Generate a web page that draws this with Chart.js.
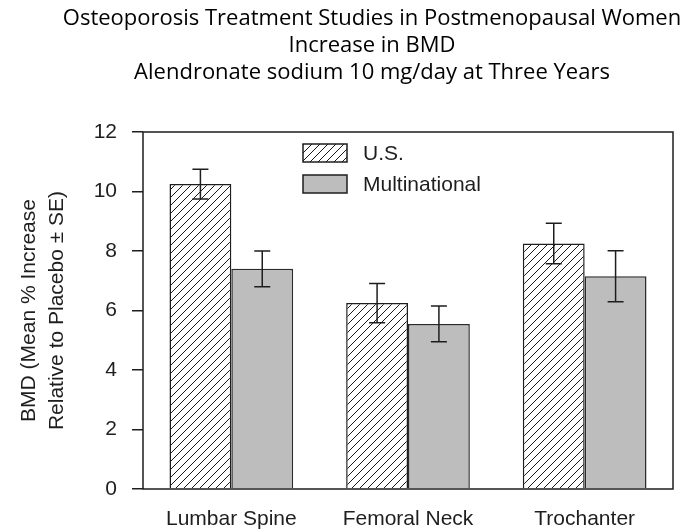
<!DOCTYPE html>
<html>
<head>
<meta charset="utf-8">
<script src="https://cdn.jsdelivr.net/npm/chart.js"></script>
<style>
  html, body { margin: 0; padding: 0; background: #fff; }
  #wrap { width: 691px; height: 531px; position: relative; }
</style>
</head>
<body>
<div id="wrap"><canvas id="bmdChart"></canvas></div>
<script>
// ==================== DATA ====================
const titleLines = [
    'Osteoporosis Treatment Studies in Postmenopausal Women',
    'Increase in BMD',
    'Alendronate sodium 10 mg/day at Three Years'
];
const categories = ['Lumbar Spine', 'Femoral Neck', 'Trochanter'];
const seriesNames = ['U.S.', 'Multinational'];
const usValues = [10.25, 6.25, 8.25];
const usErrors = [0.5, 0.66, 0.68];
const multiValues = [7.4, 5.55, 7.15];
const multiErrors = [0.6, 0.6, 0.86];
const yTicks = [0, 2, 4, 6, 8, 10, 12];
const yTitle = ['BMD (Mean % Increase', 'Relative to Placebo \u00b1 SE)'];

const axisFont = { family: '"Liberation Sans", Arial, sans-serif', size: 21 };
const ink = '#1e1e1e';

// diagonal hatch for the U.S. bars
function makeHatch() {
    const c = document.createElement('canvas');
    c.width = c.height = 8;
    const g = c.getContext('2d');
    g.fillStyle = '#ffffff';
    g.fillRect(0, 0, 8, 8);
    g.strokeStyle = '#1a1a1a';
    g.lineWidth = 1;
    g.beginPath();
    g.moveTo(0, 8); g.lineTo(8, 0);
    g.moveTo(-1, 1); g.lineTo(1, -1);
    g.moveTo(7, 9); g.lineTo(9, 7);
    g.stroke();
    return g.createPattern(c, 'repeat');
}

// ==================== PLUGINS ====================
const titlePlugin = {
    id: 'titleLines',
    afterDraw(chart) {
        const ctx = chart.ctx;
        ctx.save();
        ctx.fillStyle = '#000';
        ctx.font = '22px "Open Sans", sans-serif';
        ctx.textAlign = 'center';
        ctx.textBaseline = 'middle';
        titleLines.forEach((line, i) => ctx.fillText(line, 372, 19 + i * 27));
        ctx.restore();
    }
};

const framePlugin = {
    id: 'frame',
    afterDraw(chart) {
        const { ctx, chartArea: a } = chart;
        ctx.save();
        ctx.strokeStyle = ink;
        ctx.lineWidth = 1.5;
        ctx.strokeRect(a.left, a.top, a.right - a.left, a.bottom - a.top);
        ctx.restore();
    }
};

const errorBarPlugin = {
    id: 'errorBars',
    afterDatasetsDraw(chart) {
        const ctx = chart.ctx;
        const y = chart.scales.y;
        const errs = [usErrors, multiErrors];
        ctx.save();
        ctx.strokeStyle = ink;
        ctx.lineWidth = 1.5;
        chart.data.datasets.forEach((ds, di) => {
            chart.getDatasetMeta(di).data.forEach((bar, i) => {
                const v = ds.data[i], e = errs[di][i];
                const top = y.getPixelForValue(v + e);
                const bot = y.getPixelForValue(v - e);
                ctx.beginPath();
                ctx.moveTo(bar.x, top); ctx.lineTo(bar.x, bot);
                ctx.moveTo(bar.x - 8, top); ctx.lineTo(bar.x + 8, top);
                ctx.moveTo(bar.x - 8, bot); ctx.lineTo(bar.x + 8, bot);
                ctx.stroke();
            });
        });
        ctx.restore();
    }
};

const legendPlugin = {
    id: 'boxLegend',
    afterDraw(chart) {
        const { ctx, chartArea: a } = chart;
        ctx.save();
        ctx.font = '21px ' + axisFont.family;
        ctx.textBaseline = 'middle';
        chart.data.datasets.forEach((ds, i) => {
            const x = a.left + 160, y = a.top + 12 + i * 31;
            ctx.fillStyle = ds.backgroundColor;
            ctx.fillRect(x, y, 44, 18);
            ctx.strokeStyle = ink;
            ctx.lineWidth = 1.5;
            ctx.strokeRect(x, y, 44, 18);
            ctx.fillStyle = ink;
            ctx.fillText(ds.label, x + 60, y + 10);
        });
        ctx.restore();
    }
};

// ==================== CHART ====================
new Chart(document.getElementById('bmdChart'), {
    type: 'bar',
    data: {
        labels: categories,
        datasets: [
            {
                label: seriesNames[0],
                data: usValues,
                backgroundColor: makeHatch(),
                borderColor: ink,
                borderWidth: 1.5,
                categoryPercentage: 0.7,
                barPercentage: 1.0
            },
            {
                label: seriesNames[1],
                data: multiValues,
                backgroundColor: '#bdbdbd',
                borderColor: '#2a2a2a',
                borderWidth: 1.5,
                categoryPercentage: 0.7,
                barPercentage: 1.0
            }
        ]
    },
    options: {
        responsive: true,
        maintainAspectRatio: false,
        animation: false,
        layout: { padding: { top: 132, right: 18, left: 0, bottom: 0 } },
        plugins: {
            legend: { display: false },
            title: { display: false },
            tooltip: { enabled: false }
        },
        scales: {
            x: {
                grid: { display: false, drawTicks: false },
                border: { display: false },
                ticks: { color: ink, font: axisFont, padding: 18 },
                afterFit(scale) { scale.height = 42; }
            },
            y: {
                min: 0,
                max: 12,
                afterBuildTicks(scale) { scale.ticks = yTicks.map(v => ({ value: v })); },
                grid: { drawOnChartArea: false, drawTicks: true, tickLength: 11, color: ink, lineWidth: 1.5 },
                border: { display: false },
                ticks: { color: ink, font: axisFont, padding: 15 },
                title: {
                    display: true,
                    text: yTitle,
                    color: ink,
                    font: { family: axisFont.family, size: 21, lineHeight: 1.3 },
                    padding: { top: 16, bottom: 0 }
                },
                afterFit(scale) { scale.width = 143; }
            }
        }
    },
    plugins: [titlePlugin, framePlugin, errorBarPlugin, legendPlugin]
});
</script>
</body>
</html>
